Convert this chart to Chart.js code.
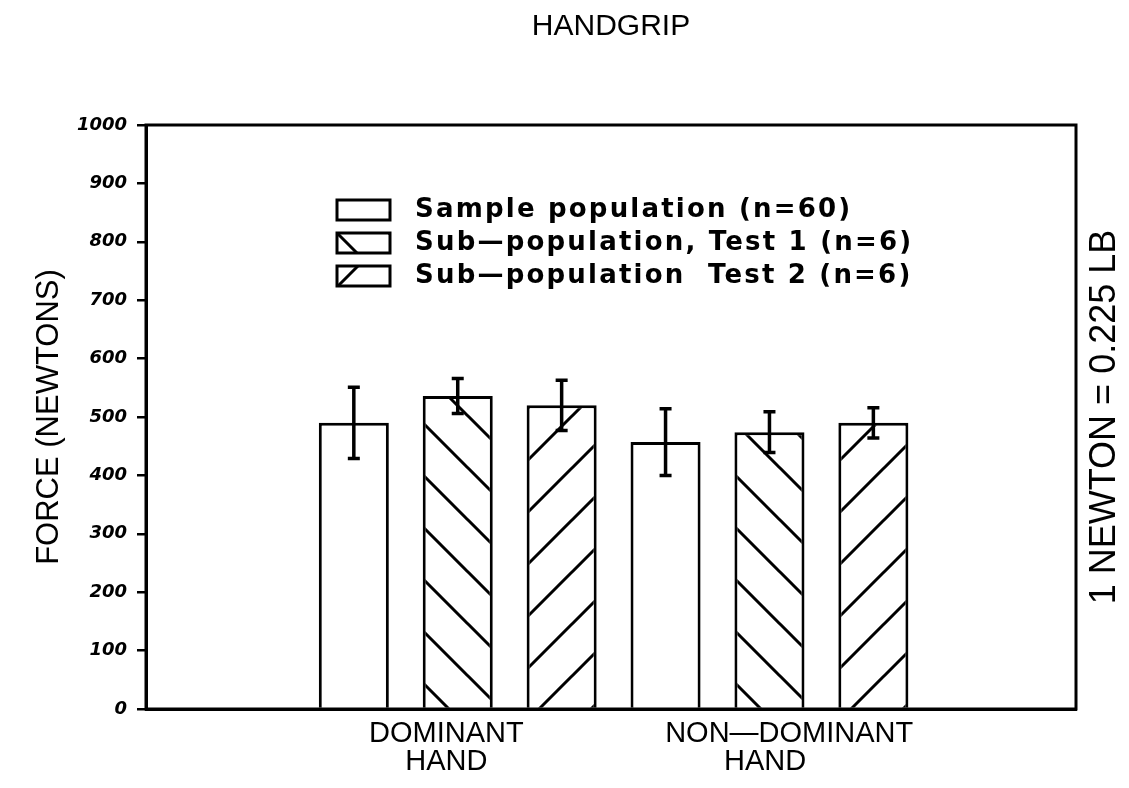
<!DOCTYPE html>
<html lang="en">
<head>
<meta charset="UTF-8">
<title>Handgrip</title>
<script src="https://cdn.jsdelivr.net/npm/chart.js@4.4.1/dist/chart.umd.min.js"></script>
<style>
  html, body { margin: 0; padding: 0; background: #fff; }
</style>
</head>
<body>
<canvas id="myChart" width="1129" height="788"></canvas>
<script>
    // groupes sur l'axe x
    const hands = [['DOMINANT', 'HAND'], ['NON\u2014DOMINANT', 'HAND      ']];
    const handTickAt = [2.89, 6.19];
    const groupStart = [2, 5];

    // séries
    const seriesNames = [
        'Sample population (n=60)',
        'Sub\u2014population, Test 1 (n=6)',
        'Sub\u2014population  Test 2 (n=6)'
    ];
    const sampleMean = [490, 457];
    const sampleErr = [61, 57];
    const test1Mean = [536, 474];
    const test1Err = [30, 35];
    const test2Mean = [520, 490];
    const test2Err = [43, 26];

    const canvas = document.getElementById('myChart');
    const ctx = canvas.getContext('2d');

    // hachures
    function hatch(dir) {
        const s = 52;
        const c = document.createElement('canvas');
        c.width = s; c.height = s;
        const g = c.getContext('2d');
        g.fillStyle = '#fff';
        g.fillRect(0, 0, s, s);
        g.strokeStyle = '#000';
        g.lineWidth = 3;
        g.lineCap = 'square';
        g.beginPath();
        for (let k = -1; k <= 1; k++) {
            if (dir === 'down') { g.moveTo(k * s, 0); g.lineTo(k * s + s, s); }
            else { g.moveTo(k * s, s); g.lineTo(k * s + s, 0); }
        }
        g.stroke();
        return ctx.createPattern(c, 'repeat');
    }

    const fills = ['#fff', hatch('down'), hatch('up')];
    const means = [sampleMean, test1Mean, test2Mean];
    const errs = [sampleErr, test1Err, test2Err];

    const datasets = seriesNames.map((name, i) => ({
        label: name,
        data: means[i].map((v, g) => ({x: groupStart[g] + i, y: v})),
        err: errs[i],
        backgroundColor: fills[i],
        borderColor: '#000',
        borderWidth: 3,
        borderSkipped: 'bottom',
        grouped: false,
        barPercentage: 0.674,
        categoryPercentage: 1
    }));

    const errorBars = {
        id: 'errorBars',
        afterDatasetsDraw(chart) {
            const y = chart.scales.y;
            const c = chart.ctx;
            c.save();
            c.strokeStyle = '#000';
            c.lineWidth = 3.5;
            chart.data.datasets.forEach((ds, i) => {
                chart.getDatasetMeta(i).data.forEach((bar, j) => {
                    const v = ds.data[j].y, e = ds.err[j];
                    const top = y.getPixelForValue(v + e), bot = y.getPixelForValue(v - e);
                    c.beginPath();
                    c.moveTo(bar.x, top); c.lineTo(bar.x, bot);
                    c.moveTo(bar.x - 6, top); c.lineTo(bar.x + 6, top);
                    c.moveTo(bar.x - 6, bot); c.lineTo(bar.x + 6, bot);
                    c.stroke();
                });
            });
            c.restore();
        }
    };

    const frame = {
        id: 'frame',
        afterDraw(chart) {
            const a = chart.chartArea, c = chart.ctx;
            c.save();
            c.strokeStyle = '#000';
            c.lineWidth = 3;
            c.strokeRect(a.left, a.top, a.right - a.left, a.bottom - a.top);
            // texte de droite
            c.translate(1105, (a.top + a.bottom) / 2);
            c.rotate(-Math.PI / 2);
            c.fillStyle = '#000';
            c.font = '36px "Liberation Sans"';
            c.textAlign = 'center';
            c.textBaseline = 'middle';
            c.fillText('1 NEWTON = 0.225 LB', 0, 0);
            c.restore();
        }
    };

    const boxLegend = {
        id: 'boxLegend',
        afterDraw(chart) {
            const c = chart.ctx;
            c.save();
            chart.data.datasets.forEach((ds, i) => {
                const top = 200 + i * 33;
                c.fillStyle = ds.backgroundColor;
                c.fillRect(337, top, 53, 20);
                c.strokeStyle = '#000';
                c.lineWidth = 3;
                c.strokeRect(337, top, 53, 20);
                c.fillStyle = '#000';
                c.font = 'bold 26px "DejaVu Sans"';
                c.letterSpacing = '2.2px';
                c.textAlign = 'left';
                c.textBaseline = 'middle';
                c.fillText(ds.label, 415, top + 10);
            });
            c.restore();
        }
    };

    Chart.defaults.font.family = '"Liberation Sans", Arial, sans-serif';
    Chart.defaults.color = '#000';

    new Chart(ctx, {
        type: 'bar',
        data: {datasets: datasets},
        plugins: [errorBars, frame, boxLegend],
        options: {
            responsive: false,
            animation: false,
            layout: {padding: {left: 0, right: 53, top: 0, bottom: 0}},
            plugins: {
                legend: {display: false},
                tooltip: {enabled: false},
                title: {
                    display: true,
                    text: 'HANDGRIP',
                    fullSize: false,
                    color: '#000',
                    font: {size: 30, weight: 'normal'},
                    padding: {top: 9, bottom: 80}
                }
            },
            scales: {
                x: {
                    type: 'linear',
                    min: 0,
                    max: 8.95,
                    offset: false,
                    afterBuildTicks: s => { s.ticks = handTickAt.map(v => ({value: v})); },
                    afterFit: s => { s.height = 79; },
                    ticks: {
                        autoSkip: false,
                        maxRotation: 0,
                        padding: 11,
                        font: {size: 29, lineHeight: 0.97},
                        callback: (v, i) => hands[i]
                    },
                    grid: {display: false, drawTicks: false, offset: false},
                    border: {display: true, width: 3, color: '#000'}
                },
                y: {
                    min: 0,
                    max: 1000,
                    afterFit: s => { s.width = 146; },
                    ticks: {
                        stepSize: 100,
                        padding: 10,
                        font: {family: '"DejaVu Sans"', size: 18, weight: 'bold', style: 'italic'},
                        callback: v => String(v)
                    },
                    grid: {drawOnChartArea: false, drawTicks: true, tickLength: 9, color: '#000', lineWidth: 2.5},
                    border: {display: true, width: 3, color: '#000'},
                    title: {
                        display: true,
                        text: 'FORCE (NEWTONS)',
                        font: {size: 31},
                        padding: {top: 31}
                    }
                }
            }
        }
    });
</script>
</body>
</html>
